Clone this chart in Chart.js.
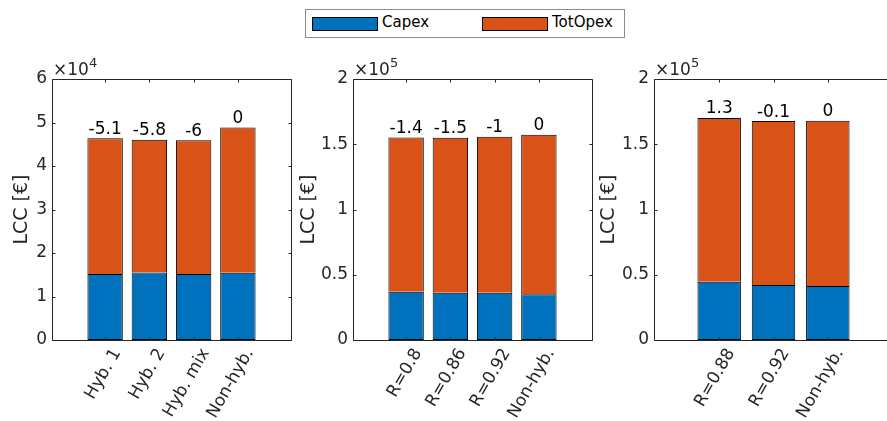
<!DOCTYPE html>
<html>
<head>
<meta charset="utf-8">
<script src="https://cdn.jsdelivr.net/npm/chart.js@4/dist/chart.umd.min.js"></script>
<style>
html,body{margin:0;padding:0;background:#fff;}
#wrap{position:relative;width:887px;height:421px;overflow:hidden;background:#fff;}
#wrap canvas{position:absolute;left:0;top:0;}
#legend{position:absolute;left:305px;top:9px;width:320px;height:29px;border:1px solid #8c8c8c;background:#fff;box-sizing:border-box;font:15px "DejaVu Sans",Verdana,sans-serif;color:#000;z-index:5;}
#legend .sw{position:absolute;top:7px;width:66px;height:14px;border:1px solid #000;box-sizing:border-box;}
#legend .lt{position:absolute;top:4px;line-height:16px;white-space:nowrap;}
</style>
</head>
<body>
<div id="wrap">
  <canvas id="c1" width="900" height="421"></canvas>
  <canvas id="c2" width="900" height="421"></canvas>
  <canvas id="c3" width="900" height="421"></canvas>
  <div id="legend">
    <div class="sw" style="left:6px;background:#0072BD"></div><div class="lt" style="left:76px">Capex</div>
    <div class="sw" style="left:176px;background:#D95319"></div><div class="lt" style="left:246px">TotOpex</div>
  </div>
</div>
<script>
// ---------- data ----------
const seriesNames = ['Capex', 'TotOpex'];

const panel1Categories = ['Hyb. 1', 'Hyb. 2', 'Hyb. mix', 'Non-hyb.'];
const panel1Capex      = [15200, 15500, 15200, 15450];
const panel1TotOpex    = [31160, 30520, 30720, 33400];
const panel1Diff       = ['-5.1', '-5.8', '-6', '0'];

const panel2Categories = ['R=0.8', 'R=0.86', 'R=0.92', 'Non-hyb.'];
const panel2Capex      = [37000, 36300, 36300, 35000];
const panel2TotOpex    = [118100, 118640, 119430, 122300];
const panel2Diff       = ['-1.4', '-1.5', '-1', '0'];

const panel3Categories = ['R=0.88', 'R=0.92', 'Non-hyb.'];
const panel3Capex      = [44700, 42100, 41400];
const panel3TotOpex    = [125500, 125700, 126600];
const panel3Diff       = ['1.3', '-0.1', '0'];

const panel1YMax = 60000,  panel1YStep = 10000, panel1Exp = 4;
const panel2YMax = 200000, panel2YStep = 50000, panel2Exp = 5;
const panel3YMax = 200000, panel3YStep = 50000, panel3Exp = 5;

const yTitle = 'LCC [€]';

// ---------- styling ----------
const FONT = '"DejaVu Sans", Verdana, sans-serif';
const AXIS = '#262626';
const CAPEX_COLOR = '#0072BD';
const OPEX_COLOR = '#D95319';
Chart.defaults.font.family = FONT;
Chart.defaults.font.size = 17;
Chart.defaults.color = AXIS;

const framePlugin = {
  id: 'frame',
  afterDatasetsDraw(chart, args, opts) {
    const ctx = chart.ctx;
    const meta = chart.getDatasetMeta(chart.data.datasets.length - 1);
    ctx.save();
    ctx.fillStyle = '#000';
    ctx.font = '17px ' + FONT;
    ctx.textAlign = 'center';
    ctx.textBaseline = 'alphabetic';
    meta.data.forEach((bar, i) => {
      ctx.fillText(opts.labels[i], bar.x, bar.y - 4.5);
    });
    ctx.restore();
  },
  afterDraw(chart, args, opts) {
    const {ctx, chartArea: a, scales: {x, y}} = chart;
    ctx.save();
    ctx.strokeStyle = AXIS;
    ctx.lineWidth = 1;
    const L = Math.round(a.left) + 0.5, R = Math.round(a.right) + 0.5;
    const T = Math.round(a.top) + 0.5, B = Math.round(a.bottom) + 0.5;
    ctx.beginPath();
    ctx.rect(L, T, R - L, B - T);
    const tl = 3;
    y.ticks.forEach(t => {
      const py = Math.round(y.getPixelForValue(t.value)) + 0.5;
      ctx.moveTo(L, py); ctx.lineTo(L + tl, py);
      ctx.moveTo(R, py); ctx.lineTo(R - tl, py);
    });
    x.ticks.forEach(t => {
      const px = Math.round(x.getPixelForValue(t.value)) + 0.5;
      ctx.moveTo(px, B); ctx.lineTo(px, B - tl);
      ctx.moveTo(px, T); ctx.lineTo(px, T + tl);
    });
    ctx.stroke();
    // exponent label
    ctx.fillStyle = AXIS;
    ctx.textAlign = 'left';
    ctx.textBaseline = 'alphabetic';
    ctx.font = '17px ' + FONT;
    const base = '\u00d710';
    ctx.fillText(base, a.left + 1, a.top - 4);
    const w = ctx.measureText(base).width;
    ctx.font = '13px ' + FONT;
    ctx.fillText(String(opts.exponent), a.left + 1 + w, a.top - 12);
    ctx.restore();
  }
};

function fmt(v) {
  return String(Math.round(v * 100) / 100);
}

function makePanel(id, cats, capex, opex, diff, yMax, yStep, exponent, areaLeft, areaRight, yW, titlePad) {
  const n = cats.length;
  const canvasW = 900;
  return new Chart(document.getElementById(id), {
    type: 'bar',
    data: {
      datasets: [
        { label: seriesNames[0], data: capex.map((v, i) => ({x: i + 1, y: v})),
          backgroundColor: CAPEX_COLOR, borderColor: '#000', borderWidth: 1, borderSkipped: false },
        { label: seriesNames[1], data: opex.map((v, i) => ({x: i + 1, y: v})),
          backgroundColor: OPEX_COLOR, borderColor: '#000', borderWidth: 1, borderSkipped: 'start' }
      ]
    },
    options: {
      responsive: false,
      animation: false,
      events: [],
      layout: { padding: { left: areaLeft - yW, right: canvasW - areaRight, top: 79, bottom: 0 } },
      datasets: { bar: { categoryPercentage: 1, barPercentage: 0.8 } },
      plugins: {
        legend: { display: false },
        tooltip: { enabled: false },
        frame: { labels: diff, exponent: exponent }
      },
      scales: {
        x: {
          type: 'linear', stacked: true, min: -0.2, max: n + 1.2, bounds: 'data', offset: false,
          grid: { display: false, drawTicks: false, offset: false },
          border: { display: false },
          afterBuildTicks: s => { s.ticks = cats.map((c, i) => ({ value: i + 1 })); },
          afterFit: s => { s.height = 81; s.paddingLeft = 0; s.paddingRight = 0; },
          ticks: { autoSkip: false, maxRotation: 60, minRotation: 60, padding: 5, labelOffset: 12,
                   callback: (v, i) => cats[i] }
        },
        y: {
          stacked: true, min: 0, max: yMax,
          grid: { display: false, drawTicks: false },
          border: { display: false },
          ticks: { stepSize: yStep, padding: 5, callback: v => fmt(v / Math.pow(10, exponent)) },
          title: { display: true, text: yTitle, color: AXIS, font: { size: 19 }, padding: { top: titlePad, bottom: 0 } },
          afterFit: s => { s.width = yW; s.paddingTop = 0; s.paddingBottom = 0; }
        }
      }
    },
    plugins: [framePlugin]
  });
}

makePanel('c1', panel1Categories, panel1Capex, panel1TotOpex, panel1Diff, panel1YMax, panel1YStep, panel1Exp, 52, 291, 52, 10.6);
makePanel('c2', panel2Categories, panel2Capex, panel2TotOpex, panel2Diff, panel2YMax, panel2YStep, panel2Exp, 353, 592, 60, 4.6);
makePanel('c3', panel3Categories, panel3Capex, panel3TotOpex, panel3Diff, panel3YMax, panel3YStep, panel3Exp, 654, 893, 60, 3.6);
</script>
</body>
</html>
